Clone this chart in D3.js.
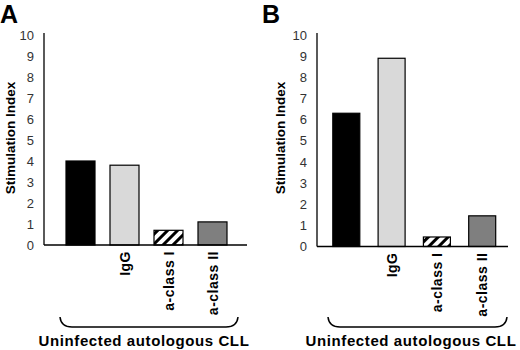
<!DOCTYPE html>
<html><head><meta charset="utf-8">
<script src="https://cdn.jsdelivr.net/npm/d3@7"></script>
<style>body{margin:0;background:#fff}svg{display:block}</style>
</head><body>
<svg id="c" width="520" height="350"></svg>
<script>
const categories = ["", "IgG", "a-class I", "a-class II"];
const valuesA = [4.0, 3.8, 0.7, 1.1];
const valuesB = [6.3, 8.9, 0.45, 1.45];
const yTicks = [0,1,2,3,4,5,6,7,8,9,10];
const panelLabels = ["A", "B"];
const yTitle = "Stimulation Index";
const groupLabel = "Uninfected autologous CLL";
const fills = ["#000000", "#d9d9d9", "url(#hatch)", "#7f7f7f"];

const svg = d3.select("#c");
const defs = svg.append("defs");
const pat = defs.append("pattern").attr("id","hatch").attr("patternUnits","userSpaceOnUse")
  .attr("width",7).attr("height",7).attr("patternTransform","rotate(45)");
pat.append("rect").attr("width",7).attr("height",7).attr("fill","#fff");
pat.append("rect").attr("width",3).attr("height",7).attr("fill","#000");

const FONT = "Liberation Sans, Arial, sans-serif";
const panels = [
  {vals: valuesA, label: panelLabels[0], lx: 0, ax: 44, xEnd: 247, y0: 245, y10: 35, c0: 80.5, c1: 212.5, bw: 29, titleX: 15, braceX0: 60, braceX1: 238, textX: 144},
  {vals: valuesB, label: panelLabels[1], lx: 262, ax: 317, xEnd: 508, y0: 246.5, y10: 35, c0: 346.3, c1: 482.2, bw: 27, titleX: 285, braceX0: 328, braceX1: 507, textX: 411}
];

panels.forEach(p => {
  const g = svg.append("g");
  const y = d3.scaleLinear().domain([0,10]).range([p.y0, p.y10]);
  const x = d3.scalePoint().domain(categories).range([p.c0, p.c1]);

  g.append("text").attr("x", p.lx).attr("y", 23).text(p.label)
    .attr("font-family",FONT).attr("font-weight","bold").attr("font-size",25);

  const yAxis = d3.axisLeft(y).tickValues(yTicks).tickSize(0).tickPadding(10).tickFormat(d3.format("d"));
  const ya = g.append("g").attr("transform", `translate(${p.ax},0)`).call(yAxis);
  ya.select(".domain").attr("stroke","#000").attr("stroke-width",1.3).attr("d", `M0,${p.y0}V${p.y10-2}`);
  ya.selectAll("text").attr("font-family",FONT).attr("font-size",13).attr("fill","#333");

  g.selectAll("rect.bar").data(p.vals).join("rect").attr("class","bar")
    .attr("x", (d,i) => x(categories[i]) - p.bw/2)
    .attr("y", d => y(d))
    .attr("width", p.bw)
    .attr("height", d => y(0) - y(d))
    .attr("fill", (d,i) => fills[i])
    .attr("stroke","#000").attr("stroke-width",1.2);

  g.append("line").attr("x1", p.ax).attr("x2", p.xEnd).attr("y1", p.y0).attr("y2", p.y0)
    .attr("stroke","#000").attr("stroke-width",1.3);

  categories.forEach(c => {
    if (!c) return;
    g.append("text").attr("transform", `translate(${x(c)+5},${p.y0+6}) rotate(-90)`)
      .attr("text-anchor","end").text(c)
      .attr("font-family",FONT).attr("font-weight","bold").attr("font-size",14)
      .attr("letter-spacing",0.5);
  });

  g.append("text").attr("transform", `translate(${p.titleX},138) rotate(-90)`)
    .attr("text-anchor","middle").text(yTitle)
    .attr("font-family",FONT).attr("font-weight","bold").attr("font-size",13.5);

  const bx0 = p.braceX0, bx1 = p.braceX1, by = 327;
  g.append("path").attr("d", `M${bx0},${by-10} Q${bx0+1},${by} ${bx0+12},${by} L${bx1-12},${by} Q${bx1-1},${by} ${bx1},${by-10}`)
    .attr("fill","none").attr("stroke","#000").attr("stroke-width",1.5);

  g.append("text").attr("x", p.textX).attr("y", 346).attr("text-anchor","middle").text(groupLabel)
    .attr("font-family",FONT).attr("font-weight","bold").attr("font-size",15)
    .attr("letter-spacing", 0.6);
});
</script>
</body></html>
